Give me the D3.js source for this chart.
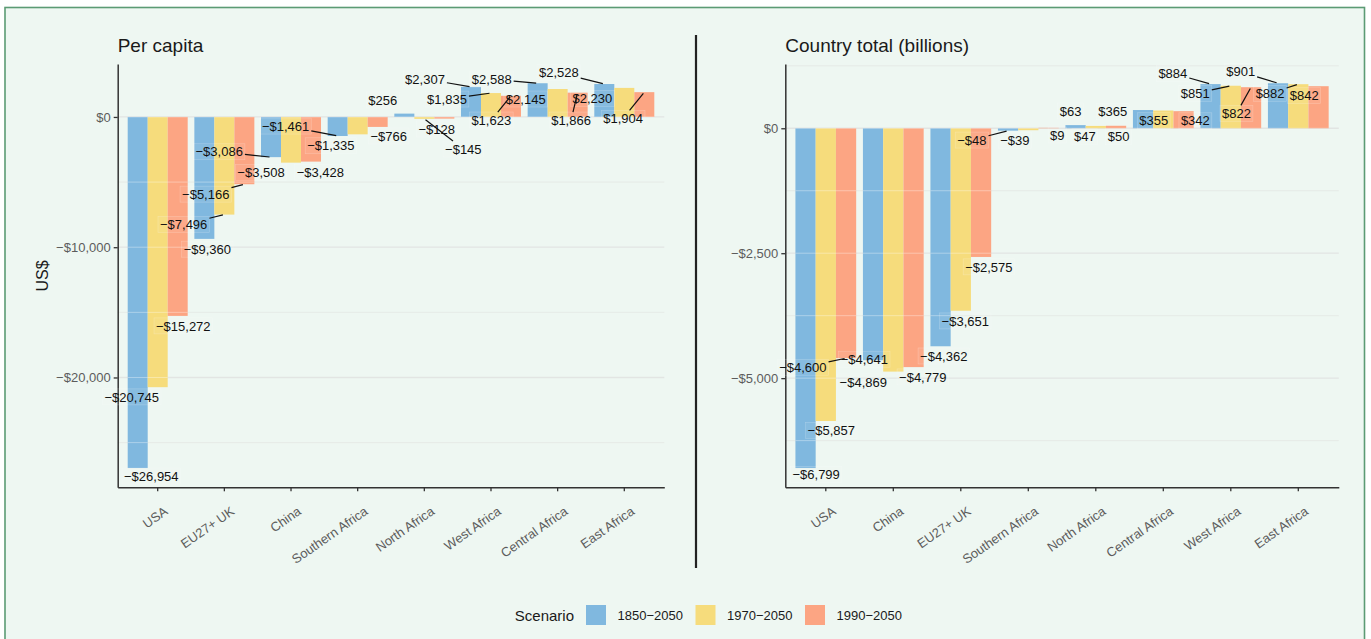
<!DOCTYPE html>
<html>
<head>
<meta charset="utf-8">
<script src="https://cdn.jsdelivr.net/npm/d3@7"></script>
<style>
  html, body { margin: 0; padding: 0; background: #ffffff; }
  svg { display: block; font-family: "Liberation Sans", Arial, Helvetica, sans-serif; }
</style>
</head>
<body>
<svg id="chart" width="1371" height="639"></svg>
<script>
// ---- data -------------------------------------------------------------
const scenarios = ["1850\u22122050", "1970\u22122050", "1990\u22122050"];

const perCapitaRegions = ["USA", "EU27+ UK", "China", "Southern Africa", "North Africa",
                          "West Africa", "Central Africa", "East Africa"];
const perCapita1850 = [-26954, -9360, -3086, -1461, 256, 2307, 2588, 2528];
const perCapita1970 = [-20745, -7496, -3508, -1335, -145, 1835, 2145, 2230];
const perCapita1990 = [-15272, -5166, -3428, -766, -128, 1623, 1866, 1904];
const perCapitaTicks = [0, -10000, -20000];

const totalRegions = ["USA", "China", "EU27+ UK", "Southern Africa", "North Africa",
                      "Central Africa", "West Africa", "East Africa"];
const total1850 = [-6799, -4641, -4362, -48, 63, 365, 884, 901];
const total1970 = [-5857, -4869, -3651, -39, 47, 355, 851, 882];
const total1990 = [-4600, -4779, -2575, 9, 50, 342, 822, 842];
const totalTicks = [0, -2500, -5000];

// ---- label placement (pixel offset from bar end, leader line flag) -----
const perCapitaLabelNudge = [
  [[13.6, 8, 0], [3, 10.3, 0], [-51.8, -5.4, 1], [-52.1, -9.9, 1], [-21.5, -13.6, 0], [-46, -7.9, 1], [-45.9, -4.2, 1], [-45.5, -11.3, 1]],
  [[-26, 9.7, 0], [-40.7, 9.8, 1], [-30, 9.7, 0], [-26.8, 11.4, 0], [39, 30.2, 1], [-44, 6, 1], [-31.9, 10, 0], [-31.9, 10.4, 0]],
  [[5.6, 10, 0], [-38.6, 9.9, 1], [9.3, 10.8, 0], [11.1, 9.1, 0], [-7.6, 10.4, 0], [-19.7, 24.2, 1], [-6.6, 27.4, 1], [-21.2, 26.2, 1]]
];
const totalLabelNudge = [
  [[10.6, 6.3, 0], [-8.7, -1, 0], [3.2, 9.7, 0], [-36.2, 9.4, 1], [-5, -14.1, 0], [-30.3, 1.7, 0], [-37.7, -10.8, 1], [-37.4, -11.5, 1]],
  [[5.5, 9.3, 0], [-30, 10.3, 0], [4.5, 10.2, 0], [-13.5, 9.9, 0], [-11, 10.8, 0], [-9.5, 10.2, 0], [-35.5, 7.6, 1], [-28.2, 9.1, 1]],
  [[-43.2, 9.1, 1], [9.2, 9.8, 0], [7.8, 9.9, 0], [8.8, 7.2, 0], [2.5, 11, 0], [11.8, 9.6, 0], [-14.6, 26.2, 1], [-14.4, 9.5, 0]]
];

// ---- styling ----------------------------------------------------------
const colors = ["#80b8df", "#f6dc7c", "#fca583"];
const bg = "#eef7f2";
const gridColor = "#e2e5e3";
const axisColor = "#333333";
const tickText = "#5c5c5c";

const svg = d3.select("#chart");
const W = 1371, H = 639;

svg.append("rect").attr("width", W).attr("height", H).attr("fill", "#ffffff");
svg.append("rect")
  .attr("x", 5).attr("y", 7.5).attr("width", 1359.5).attr("height", 700)
  .attr("fill", bg).attr("stroke", "#5b9b74").attr("stroke-width", 1.6);

const defs = svg.append("defs");

const money = v => (v < 0 ? "\u2212" : "") + "$" + d3.format(",")(Math.abs(v));

function drawPanel(cfg) {
  const g = svg.append("g");
  const series = cfg.series;
  const all = series.flat();
  const lo = d3.min(all), hi = d3.max(all);
  const pad = (hi - lo) * 0.05;

  const y = d3.scaleLinear().domain([lo - pad, hi + pad]).range([cfg.y1, cfg.y0]);
  const x = d3.scaleBand().domain(cfg.regions).range([cfg.x0, cfg.x1])
    .paddingInner(0.1).paddingOuter(0.15);
  const xs = d3.scaleBand().domain(scenarios).range([0, x.bandwidth()]);

  // grid
  const step = cfg.ticks[0] - cfg.ticks[1];
  const minor = [];
  for (let v = d3.max(cfg.ticks) + step / 2; v >= lo - pad; v -= step) {
    if (v <= hi + pad) minor.push(v);
  }
  const gridG = g.append("g");
  gridG.selectAll("line.minor").data(minor).join("line")
    .attr("x1", cfg.x0).attr("x2", cfg.x1)
    .attr("y1", d => y(d)).attr("y2", d => y(d))
    .attr("stroke", gridColor).attr("stroke-width", 0.7);
  gridG.selectAll("line.major").data(cfg.ticks).join("line")
    .attr("x1", cfg.x0).attr("x2", cfg.x1)
    .attr("y1", d => y(d)).attr("y2", d => y(d))
    .attr("stroke", gridColor).attr("stroke-width", 1.3);

  // bars
  const bars = [];
  series.forEach((vals, s) => {
    vals.forEach((v, i) => {
      bars.push({ s, i, v, region: cfg.regions[i] });
    });
  });
  const barX = d => x(d.region) + xs(scenarios[d.s]);
  const barY = d => Math.min(y(d.v), y(0));
  const barH = d => Math.abs(y(d.v) - y(0));

  g.append("g").selectAll("rect").data(bars).join("rect")
    .attr("x", barX).attr("width", xs.bandwidth())
    .attr("y", barY).attr("height", barH)
    .attr("fill", d => colors[d.s]);

  // grid lines showing faintly through the bars
  const clipId = "clip-" + cfg.id;
  defs.append("clipPath").attr("id", clipId)
    .selectAll("rect").data(bars).join("rect")
    .attr("x", barX).attr("width", xs.bandwidth())
    .attr("y", barY).attr("height", barH);
  const overG = g.append("g").attr("clip-path", `url(#${clipId})`);
  overG.selectAll("line").data(cfg.ticks.concat(minor)).join("line")
    .attr("x1", cfg.x0).attr("x2", cfg.x1)
    .attr("y1", d => y(d)).attr("y2", d => y(d))
    .attr("stroke", "rgba(255,255,255,0.35)").attr("stroke-width", 1);

  // axes
  const yAxis = d3.axisLeft(y).tickValues(cfg.ticks).tickFormat(money)
    .tickSize(4).tickSizeOuter(0).tickPadding(3);
  const ya = g.append("g").attr("transform", `translate(${cfg.x0},0)`).call(yAxis);
  ya.select(".domain").attr("stroke", axisColor).attr("stroke-width", 1.5);
  ya.selectAll(".tick line").attr("stroke", axisColor).attr("stroke-width", 1.3);
  ya.selectAll(".tick text").attr("fill", tickText).attr("font-size", 13)
    .attr("font-family", "Liberation Sans, Arial, sans-serif");

  const xAxis = d3.axisBottom(x).tickSize(4).tickSizeOuter(0).tickPadding(0);
  const xa = g.append("g").attr("transform", `translate(0,${cfg.y1})`).call(xAxis);
  xa.select(".domain").attr("stroke", axisColor).attr("stroke-width", 1.5);
  xa.selectAll(".tick line").attr("stroke", axisColor).attr("stroke-width", 1.3);
  xa.selectAll(".tick text")
    .attr("fill", tickText).attr("font-size", 13)
    .attr("font-family", "Liberation Sans, Arial, sans-serif")
    .attr("text-anchor", "end")
    .attr("x", 0).attr("y", 0).attr("dy", 0)
    .attr("transform", "translate(11,26) rotate(-35)");

  // title
  g.append("text").attr("x", cfg.x0).attr("y", 52)
    .attr("font-size", 19).attr("fill", "#1a1a1a").text(cfg.title);

  // value labels
  const labG = g.append("g");
  bars.forEach(d => {
    const nudge = cfg.nudge[d.s][d.i];
    const tx = x(d.region) + xs(scenarios[d.s]) + xs.bandwidth() / 2;
    const ty = y(d.v);
    const cx = tx + nudge[0], cy = ty + nudge[1];
    const t = labG.append("text")
      .attr("x", cx).attr("y", cy).attr("dy", "0.36em")
      .attr("text-anchor", "middle").attr("font-size", 13).attr("fill", "#111")
      .text(money(d.v));
    const w = t.node().getComputedTextLength();
    const bw = w / 2 + 2, bh = 8;
    labG.insert("rect", "text")
      .attr("x", cx - bw).attr("y", cy - bh).attr("width", bw * 2).attr("height", bh * 2)
      .attr("fill", "rgba(255,255,255,0.06)").attr("stroke", "rgba(255,255,255,0.28)")
      .attr("stroke-width", 0.6);
    if (nudge[2]) {
      const dx = tx - cx, dy = ty - cy;
      const sx = Math.abs(dx) > 0 ? bw / Math.abs(dx) : Infinity;
      const sy = Math.abs(dy) > 0 ? bh / Math.abs(dy) : Infinity;
      const s0 = Math.min(sx, sy);
      const len = Math.hypot(dx, dy);
      const s1 = 1 - 1.5 / len;
      labG.append("line")
        .attr("x1", cx + dx * s0).attr("y1", cy + dy * s0)
        .attr("x2", cx + dx * s1).attr("y2", cy + dy * s1)
        .attr("stroke", "#111").attr("stroke-width", 1.2);
    }
  });
  return g;
}

drawPanel({
  id: "pc", title: "Per capita", regions: perCapitaRegions,
  series: [perCapita1850, perCapita1970, perCapita1990],
  ticks: perCapitaTicks, nudge: perCapitaLabelNudge,
  x0: 117.7, x1: 664.3, y0: 64, y1: 487.3
});

drawPanel({
  id: "tot", title: "Country total (billions)", regions: totalRegions,
  series: [total1850, total1970, total1990],
  ticks: totalTicks, nudge: totalLabelNudge,
  x0: 785.3, x1: 1338.8, y0: 64, y1: 487.3
});

// y axis title
svg.append("text")
  .attr("transform", "translate(48,276) rotate(-90)")
  .attr("text-anchor", "middle").attr("font-size", 16).attr("fill", "#1a1a1a")
  .text("US$");

// divider between panels
svg.append("line")
  .attr("x1", 696).attr("x2", 696).attr("y1", 35).attr("y2", 568)
  .attr("stroke", "#222").attr("stroke-width", 2.2);

// legend
const leg = svg.append("g");
leg.append("text").attr("x", 574).attr("y", 620.5).attr("text-anchor", "end")
  .attr("font-size", 15).attr("fill", "#1a1a1a").text("Scenario");
const legX = d3.scalePoint().domain(scenarios).range([586, 805]);
scenarios.forEach((s, k) => {
  leg.append("rect").attr("x", legX(s)).attr("y", 605).attr("width", 20).attr("height", 20)
    .attr("fill", colors[k]);
  leg.append("text").attr("x", legX(s) + 31.5).attr("y", 619.5)
    .attr("font-size", 13).attr("fill", "#1a1a1a").text(s);
});
</script>
</body>
</html>
